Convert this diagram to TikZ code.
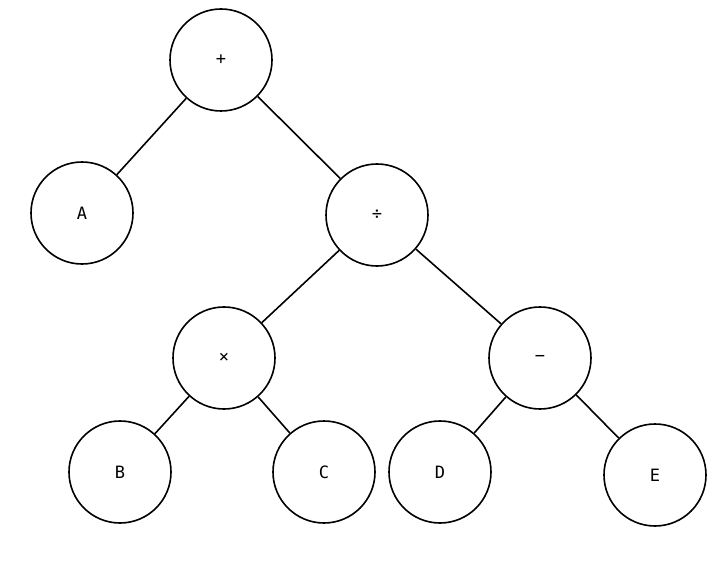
\documentclass[tikz,border=0pt]{standalone}
\usepackage{fontspec}
\setmainfont{DejaVu Sans Mono}
\begin{document}
\begin{tikzpicture}[x=1pt,y=-1pt,
  n/.style={circle,draw,line width=1.6pt,minimum size=102pt,inner sep=0pt,font=\fontsize{17}{17}\selectfont},
  e/.style={line width=1.6pt}]
\useasboundingbox (0,0) rectangle (713,575);
\node[n] (p) at (221,60) {+};
\node[n] (a) at (82,213) {A};
\node[n] (d) at (377,215) {÷};
\node[n] (m) at (224,358) {×};
\node[n] (s) at (540,358) {−};
\node[n] (b) at (120,472) {B};
\node[n] (c) at (324,472) {C};
\node[n] (dd) at (440,472) {D};
\node[n] (ee) at (655,475) {E};
\draw[e] (p)--(a); \draw[e] (p)--(d);
\draw[e] (d)--(m); \draw[e] (d)--(s);
\draw[e] (m)--(b); \draw[e] (m)--(c);
\draw[e] (s)--(dd); \draw[e] (s)--(ee);
\end{tikzpicture}
\end{document}
